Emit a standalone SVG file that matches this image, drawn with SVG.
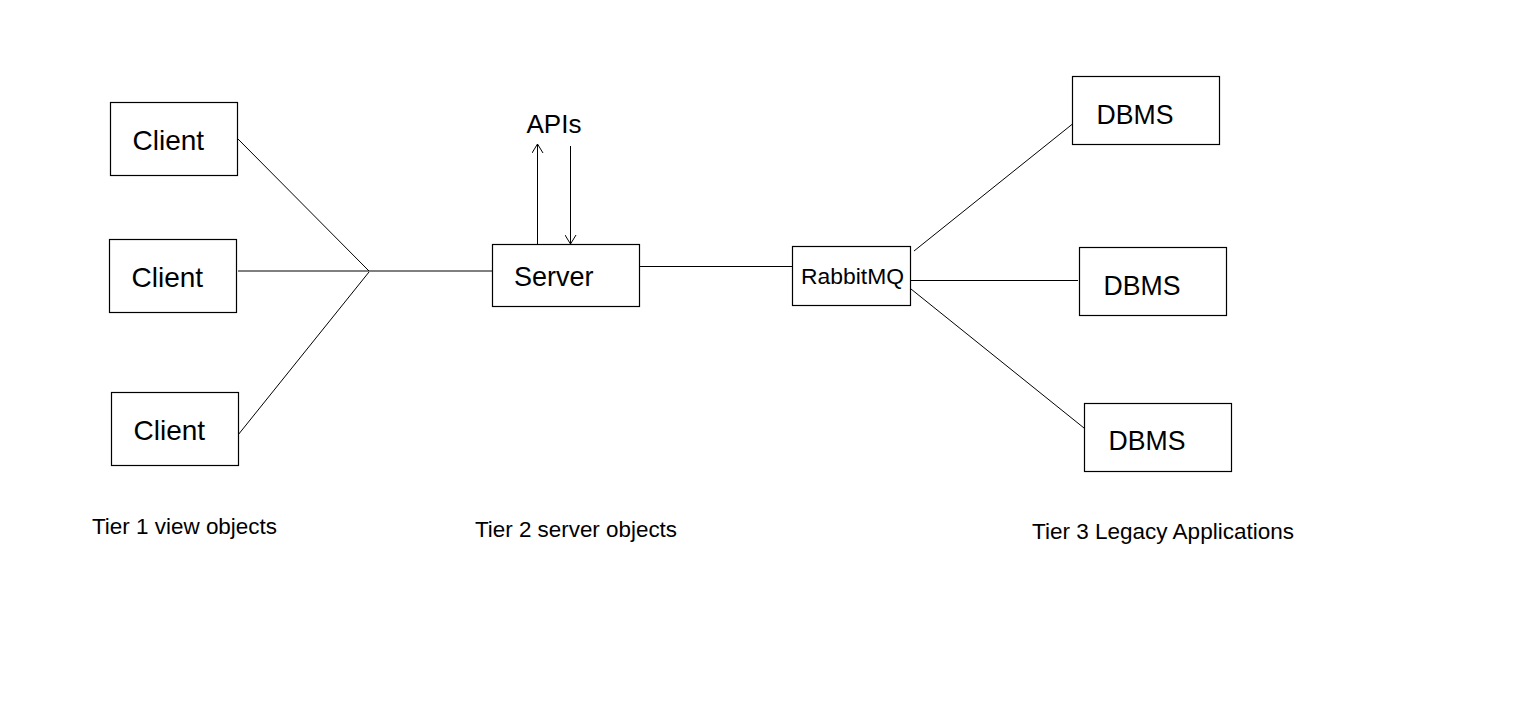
<svg xmlns="http://www.w3.org/2000/svg" width="1522" height="727" viewBox="0 0 1522 727">
<defs>
<style>
.box{fill:#fff;stroke:#000;stroke-width:1.2}
.ln{fill:none;stroke:#000;stroke-width:1}
.t{font-family:"Liberation Sans",Arial,sans-serif;fill:#000}
.big{font-size:28px}
.lab{font-size:22.3px}
</style>
<marker id="arr" viewBox="0 0 12 12" refX="11" refY="6" markerWidth="12" markerHeight="12" markerUnits="userSpaceOnUse" orient="auto">
<path d="M2,0.5 L11,6 L2,11.5" fill="none" stroke="#000" stroke-width="1"/>
</marker>
</defs>
<rect width="1522" height="727" fill="#fff"/>
<g id="connectors">
<line class="ln" x1="238" y1="139" x2="369" y2="271"/>
<line class="ln" x1="238" y1="271" x2="492" y2="271"/>
<line class="ln" x1="238" y1="435" x2="369" y2="272"/>
<line class="ln" x1="537.5" y1="244" x2="537.5" y2="144" marker-end="url(#arr)"/>
<line class="ln" x1="570.5" y1="146" x2="570.5" y2="244" marker-end="url(#arr)"/>
<line class="ln" x1="639" y1="266.5" x2="793" y2="266.5"/>
<line class="ln" x1="914" y1="251" x2="1075" y2="122"/>
<line class="ln" x1="910" y1="280.5" x2="1078" y2="280.5"/>
<line class="ln" x1="911" y1="289" x2="1084" y2="428"/>
</g>
<g id="client1"><rect class="box" x="110.5" y="102.5" width="127" height="73"/><text class="t big" x="132.5" y="150">Client</text></g>
<g id="client2"><rect class="box" x="109.5" y="239.5" width="127" height="73"/><text class="t big" x="131.5" y="287">Client</text></g>
<g id="client3"><rect class="box" x="111.5" y="392.5" width="127" height="73"/><text class="t big" x="133.5" y="440">Client</text></g>
<g id="server"><rect class="box" x="492.5" y="244.5" width="147" height="62"/><text class="t" font-size="27" x="514" y="286">Server</text></g>
<g id="apis"><text class="t" font-size="26" x="526.5" y="132.5">APIs</text></g>
<g id="rabbitmq"><rect class="box" x="792.5" y="246.5" width="118" height="59"/><text class="t" font-size="22" textLength="103" lengthAdjust="spacingAndGlyphs" x="801" y="283.5">RabbitMQ</text></g>
<g id="dbms1"><rect class="box" x="1072.5" y="76.5" width="147" height="68"/><text class="t" font-size="27.5" textLength="77" lengthAdjust="spacingAndGlyphs" x="1096.5" y="123.5">DBMS</text></g>
<g id="dbms2"><rect class="box" x="1079.5" y="247.5" width="147" height="68"/><text class="t" font-size="27.5" textLength="77" lengthAdjust="spacingAndGlyphs" x="1103.5" y="294.5">DBMS</text></g>
<g id="dbms3"><rect class="box" x="1084.5" y="403.5" width="147" height="68"/><text class="t" font-size="27.5" textLength="77" lengthAdjust="spacingAndGlyphs" x="1108.5" y="450">DBMS</text></g>
<g id="tier1"><text class="t lab" x="92" y="533.5" textLength="185" lengthAdjust="spacingAndGlyphs">Tier 1 view objects</text></g>
<g id="tier2"><text class="t lab" x="475" y="537" textLength="202" lengthAdjust="spacingAndGlyphs">Tier 2 server objects</text></g>
<g id="tier3"><text class="t lab" x="1032" y="538.5" textLength="262" lengthAdjust="spacingAndGlyphs">Tier 3 Legacy Applications</text></g>
</svg>
